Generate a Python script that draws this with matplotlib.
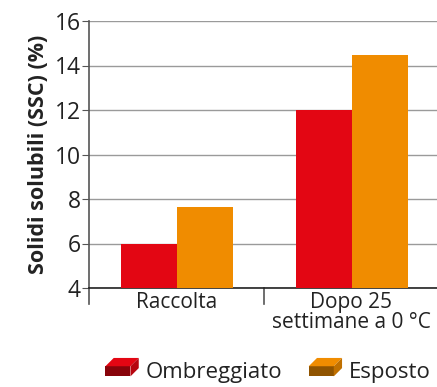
import matplotlib.pyplot as plt
import matplotlib.patches as mpatches
from matplotlib.legend_handler import HandlerBase
import numpy as np

categories = ['Raccolta', 'Dopo 25\nsettimane a 0 °C']
series_names = ['Ombreggiato', 'Esposto']
ombreggiato = [6.0, 12.0]
esposto = [7.65, 14.45]
yticks = [4, 6, 8, 10, 12, 14, 16]

red = '#e30613'
orange = '#f08c00'
plt.rcParams['font.family'] = ['Open Sans', 'DejaVu Sans']


def darker(c, f):
    import matplotlib.colors as mc
    r, g, b = mc.to_rgb(c)
    return (r * f, g * f, b * f)


class BrickHandler(HandlerBase):
    # little 3d brick like the legend icons in the source
    def create_artists(self, legend, orig_handle, xd, yd, w, h, fontsize, trans):
        c = orig_handle.get_facecolor()
        d = h * 0.45
        front = mpatches.Polygon([[xd, yd], [xd + w - d, yd], [xd + w - d, yd + h - d], [xd, yd + h - d]],
                                 closed=True, fc=darker(c, 0.6), ec='none', transform=trans)
        top = mpatches.Polygon([[xd, yd + h - d], [xd + w - d, yd + h - d], [xd + w, yd + h], [xd + d, yd + h]],
                               closed=True, fc=c, ec='none', transform=trans)
        side = mpatches.Polygon([[xd + w - d, yd], [xd + w, yd + d], [xd + w, yd + h], [xd + w - d, yd + h - d]],
                                closed=True, fc=darker(c, 0.8), ec='none', transform=trans)
        return [front, top, side]


fig = plt.figure(figsize=(4.37, 3.87), dpi=100)
ax = fig.add_axes([89 / 437, 1 - 288 / 387, 350 / 437, 267 / 387])

x = np.arange(len(categories))
w = 0.32
ax.bar(x - w / 2, ombreggiato, width=w, color=red, zorder=3)
ax.bar(x + w / 2, esposto, width=w, color=orange, zorder=3)

ax.set_xlim(-0.5, 1.5)
ax.set_ylim(4, 16)
ax.set_yticks(yticks)
ax.yaxis.grid(True, color='#9a9a9a', linewidth=1.0, zorder=0)
for s in ['top', 'right']:
    ax.spines[s].set_visible(False)
ax.spines['left'].set_color('#555555')
ax.spines['left'].set_linewidth(1.2)
ax.spines['bottom'].set_color('#222222')
ax.spines['bottom'].set_linewidth(1.2)
ax.tick_params(axis='y', labelsize=16.5, length=5, color='#555555', pad=1, labelcolor='#222222')

ax.set_xticks(x)
ax.set_xticklabels(categories, fontsize=15, color='#222222', linespacing=0.95)
ax.tick_params(axis='x', length=0, pad=3)
# separators below the axis between categories
for xs in [-0.5, 0.5]:
    ax.plot([xs, xs], [4, 3.3], color='#555555', lw=1.2, clip_on=False)

ax.set_ylabel('Solidi solubili (SSC) (%)', fontsize=15.5, fontweight='bold', color='#222222', labelpad=4)

handles = [mpatches.Patch(facecolor=red), mpatches.Patch(facecolor=orange)]
fig.legend(handles, series_names, handler_map={mpatches.Patch: BrickHandler()},
           loc='center', bbox_to_anchor=(268 / 437, 1 - 372 / 387), ncol=2, frameon=False,
           fontsize=16, handlelength=1.5, handleheight=0.9, handletextpad=0.3, columnspacing=1.2,
           labelcolor='#222222', borderpad=0)

fig.savefig('out.png', dpi=100)
